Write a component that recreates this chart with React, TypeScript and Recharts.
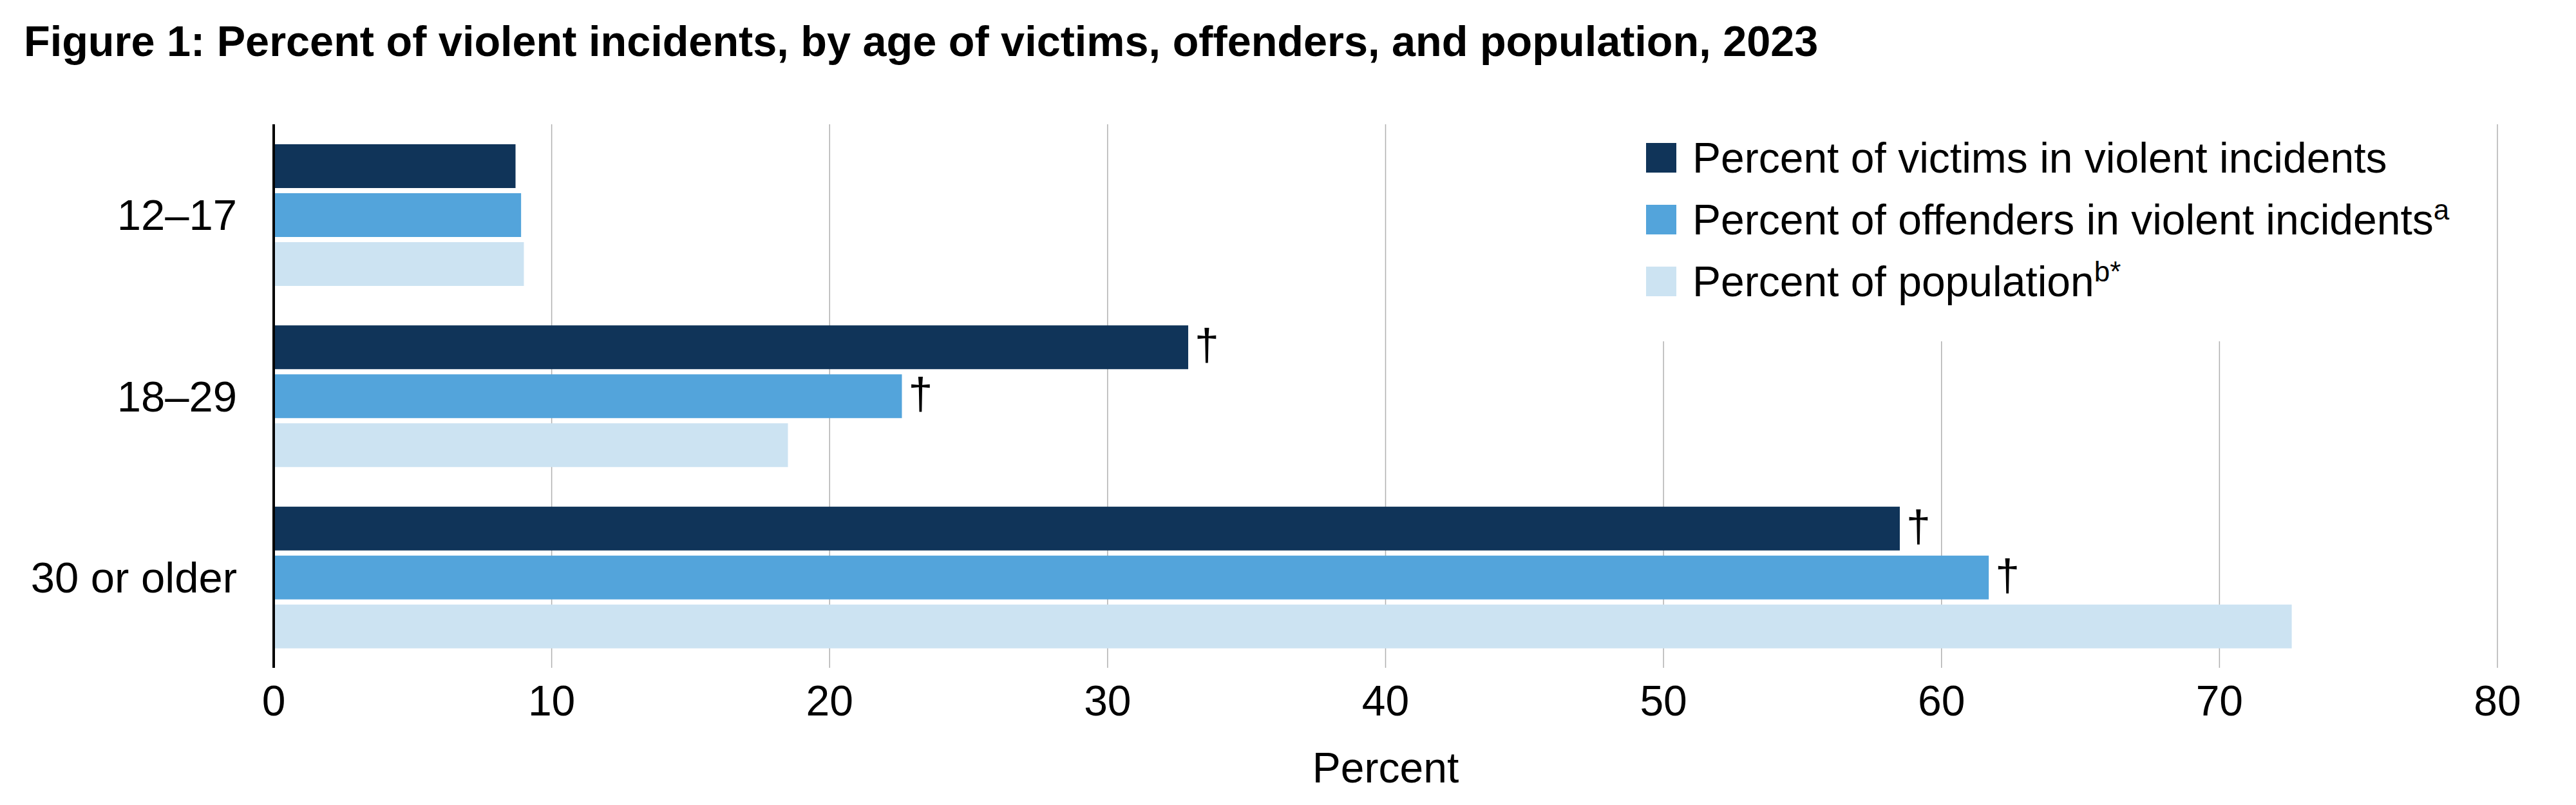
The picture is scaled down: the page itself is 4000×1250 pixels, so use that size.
import { Bar, BarChart, CartesianGrid, LabelList, Legend, XAxis, YAxis } from "recharts";

const FONT = '"Liberation Sans", Arial, Helvetica, sans-serif';

const ageGroups = ["12–17", "18–29", "30 or older"];
const victims = [8.7, 32.9, 58.5];
const offenders = [8.9, 22.6, 61.7];
const population = [9.0, 18.5, 72.6];
// † = significant difference from the population share
const victimsSig = [false, true, true];
const offendersSig = [false, true, true];
const percentTicks = [0, 10, 20, 30, 40, 50, 60, 70, 80];

const seriesNames = [
  "Percent of victims in violent incidents",
  "Percent of offenders in violent incidents",
  "Percent of population",
];
const seriesSup = ["", "a", "b*"];
const seriesColors = ["#103459", "#53a4db", "#cce3f2"];

const data = ageGroups.map((age, i) => ({
  age,
  victims: victims[i],
  offenders: offenders[i],
  population: population[i],
  victimsMark: victimsSig[i] ? "†" : "",
  offendersMark: offendersSig[i] ? "†" : "",
}));

function Dagger(props: any) {
  const { x, y, width, height, value } = props;
  if (!value) return null;
  return (
    <text
      x={Number(x) + Number(width) + 10}
      y={Number(y) + Number(height) / 2 + 20}
      fontSize={68}
      fontFamily={FONT}
      fill="#000"
    >
      {value}
    </text>
  );
}

function LegendBox() {
  return (
    <div
      style={{
        background: "#fff",
        width: 1330,
        height: 337,
        fontFamily: FONT,
        fontSize: 66,
        color: "#000",
        position: "relative",
      }}
    >
      {seriesNames.map((name, i) => (
        <div
          key={name}
          style={{
            position: "absolute",
            left: 26,
            top: 19 + i * 96,
            height: 66,
            display: "flex",
            alignItems: "center",
            whiteSpace: "nowrap",
          }}
        >
          <span
            style={{
              display: "inline-block",
              width: 47,
              height: 46,
              background: seriesColors[i],
              marginRight: 25,
            }}
          />
          <span style={{ lineHeight: "66px" }}>
            {name}
            {seriesSup[i] && (
              <sup style={{ fontSize: 44, verticalAlign: "top", lineHeight: "36px" }}>{seriesSup[i]}</sup>
            )}
          </span>
        </div>
      ))}
    </div>
  );
}

export default function App() {
  return (
    <div style={{ position: "absolute", left: 0, top: 0, width: 4000, height: 1250, background: "#fff" }}>
      <div
        style={{
          position: "absolute",
          left: 37,
          top: 31,
          fontFamily: FONT,
          fontWeight: "bold",
          fontSize: 66.6,
          lineHeight: "66px",
          whiteSpace: "nowrap",
        }}
      >
        Figure 1: Percent of violent incidents, by age of victims, offenders, and population, 2023
      </div>
      <div style={{ position: "absolute", left: 0, top: 0 }}>
        <BarChart
          width={4000}
          height={1250}
          data={data}
          layout="vertical"
          margin={{ top: 193, right: 122, bottom: 13, left: 0 }}
          barCategoryGap={31}
          barGap={8}
        >
          <CartesianGrid horizontal={false} stroke="#b0b0b0" strokeWidth={1.5} />
          <XAxis
            type="number"
            domain={[0, 80]}
            ticks={percentTicks}
            axisLine={false}
            tickLine={false}
            tickSize={0}
            tickMargin={27}
            height={200}
            tick={{ fontSize: 66, fontFamily: FONT, fill: "#000" }}
            label={{
              value: "Percent",
              position: "insideBottom",
              offset: 22,
              fontSize: 66,
              fontFamily: FONT,
              fill: "#000",
            }}
          />
          <YAxis
            type="category"
            dataKey="age"
            width={425}
            axisLine={{ stroke: "#000", strokeWidth: 4 }}
            tickLine={false}
            tickSize={0}
            tickMargin={57}
            tick={{ fontSize: 67, fontFamily: FONT, fill: "#000" }}
          />
          <Legend
            layout="horizontal"
            verticalAlign="middle"
            align="center"
            wrapperStyle={{ position: "absolute", left: 2530, top: 193, width: 1330, height: 337 }}
            content={() => <LegendBox />}
          />
          <Bar dataKey="victims" name={seriesNames[0]} fill={seriesColors[0]} isAnimationActive={false}>
            <LabelList dataKey="victimsMark" content={Dagger} />
          </Bar>
          <Bar dataKey="offenders" name={seriesNames[1]} fill={seriesColors[1]} isAnimationActive={false}>
            <LabelList dataKey="offendersMark" content={Dagger} />
          </Bar>
          <Bar dataKey="population" name={seriesNames[2]} fill={seriesColors[2]} isAnimationActive={false} />
        </BarChart>
      </div>
    </div>
  );
}
